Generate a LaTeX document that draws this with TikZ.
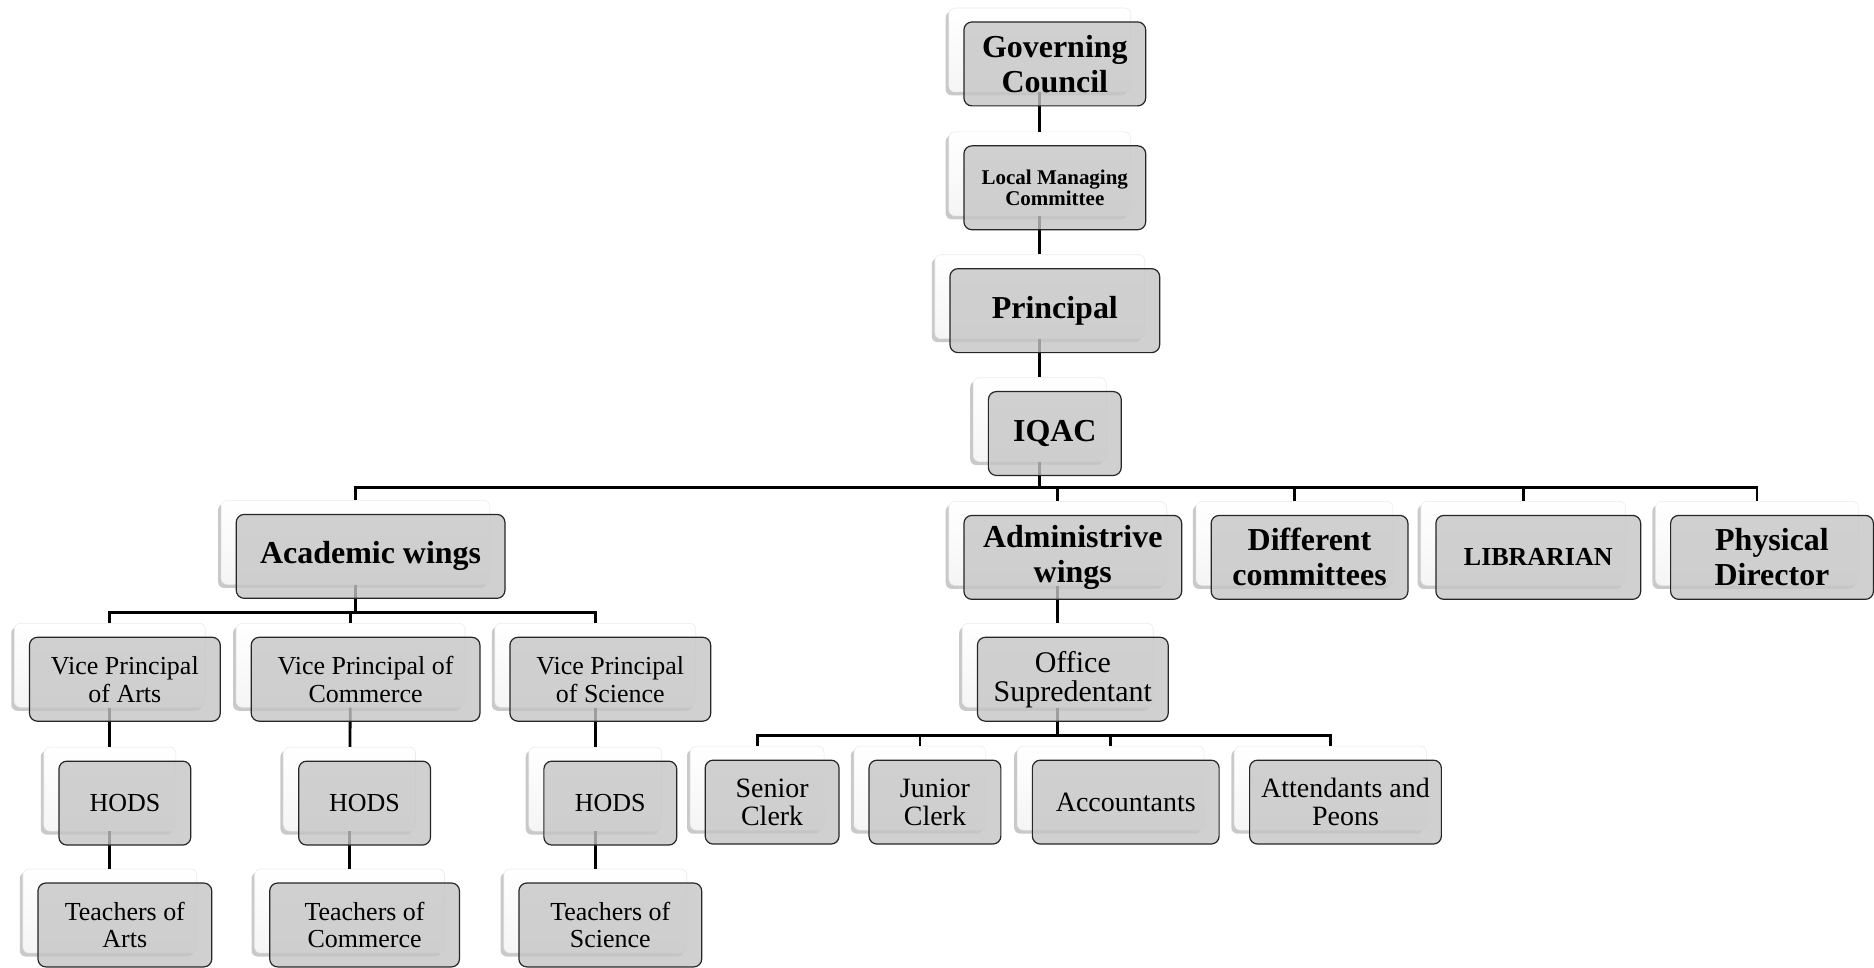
\documentclass[tikz,border=0pt]{standalone}
\usepackage{fontspec}
\setmainfont{Liberation Serif}
\usetikzlibrary{shadows}
\definecolor{boxgray}{RGB}{197,197,197}
\pgfdeclarelayer{back}
\pgfdeclarelayer{links}
\pgfsetlayers{back,links,main}

% name/x/y/width/font/text  (x, y and width in pixels of the chart)
\def\units{%
gov/1041/50/182/bigtxt/{Governing\\Council},
lmc/1041/174/182/lmctxt/{Local Managing\\Committee},
prin/1041/297/210/bigtxt/Principal,
iqac/1041/420/133/bigtxt/IQAC,
acad/356/543/269/bigtxt/{Academic wings},
admin/1059/544/218/bigtxt/{Administrive\\wings},
diff/1296/544/197/bigtxt/{Different\\committees},
lib/1525/544/205/libtxt/LIBRARIAN,
phys/1759/544/203/bigtxt/{Physical\\Director},
vpa/110/666/191/stafftxt/{Vice Principal\\of Arts},
vpc/351/666/229/stafftxt/{Vice Principal of\\Commerce},
vps/596/666/201/stafftxt/{Vice Principal\\of Science},
hoda/110/790/132/stafftxt/HODS,
hodc/350/790/132/stafftxt/HODS,
hods/596/790/133/stafftxt/HODS,
tea/110/912/174/stafftxt/{Teachers of\\Arts},
tec/350/912/190/stafftxt/{Teachers of\\Commerce},
tes/596/912/183/stafftxt/{Teachers of\\Science},
off/1059/666/191/offtxt/{Office\\Supredentant},
sen/758/789/134/clerktxt/{Senior\\Clerk},
jun/921/789/132/clerktxt/{Junior\\Clerk},
acc/1112/789/187/clerktxt/Accountants,
att/1332/789/192/clerktxt/{Attendants and\\Peons}}

\begin{document}
\begin{tikzpicture}[x=0.5pt,y=-0.5pt,
  backbox/.style={rounded corners=3pt,minimum height=42pt,inner sep=0pt,
    top color=white,bottom color=black!4,draw=black!8,line width=0.3pt,
    drop shadow={shadow xshift=-1.6pt,shadow yshift=-1.8pt,opacity=0.35,fill=black!60}},
  frontbox/.style={rounded corners=4pt,minimum height=42pt,inner sep=0pt,align=center,
    draw=black!85,line width=0.6pt,fill=boxgray,fill opacity=0.8,text opacity=1},
  link/.style={line width=1.4pt},
  bigtxt/.style={font=\fontsize{16}{17.5}\selectfont\bfseries},
  lmctxt/.style={font=\fontsize{10.5}{10.5}\selectfont\bfseries},
  libtxt/.style={font=\fontsize{13}{14}\selectfont\bfseries},
  stafftxt/.style={font=\fontsize{13}{14}\selectfont},
  offtxt/.style={font=\fontsize{15}{14.5}\selectfont},
  clerktxt/.style={font=\fontsize{14}{14}\selectfont}]

\begin{pgfonlayer}{back}
\path[use as bounding box,fill=white] (0,0) rectangle (1874,968);
\end{pgfonlayer}

% white box behind, grey box with the text in front
\foreach \n/\x/\y/\w/\f/\t in \units {
  \begin{pgfonlayer}{back}
  \node[backbox,minimum width=\w*0.5pt] (\n) at (\x,\y) {};
  \end{pgfonlayer}
  \node[frontbox,\f,minimum width=\w*0.5pt] (\n-txt) at ([shift={(15,14)}]\n.center) {\t};
}

\begin{pgfonlayer}{links}
\path[link] (gov) edge (lmc)
(lmc)   edge (prin)
(prin)  edge (iqac)
(admin) edge (off)
(vpa)   edge (hoda)
(vpc)   edge (hodc)
(vps)   edge (hods)
(hoda)  edge (tea)
(hodc)  edge (tec)
(hods)  edge (tes);

\foreach \c in {acad,admin,diff,lib,phys} {\draw[link] (iqac.south) -- ++(0,26) -| (\c.north);};
\foreach \c in {vpa,vpc,vps} {\draw[link] (acad.south) -- ++(0,28) -| (\c.north);};
\foreach \c in {sen,jun,acc,att} {\draw[link] (off.south) -- ++(0,28) -| (\c.north);};
\end{pgfonlayer}
\end{tikzpicture}
\end{document}
